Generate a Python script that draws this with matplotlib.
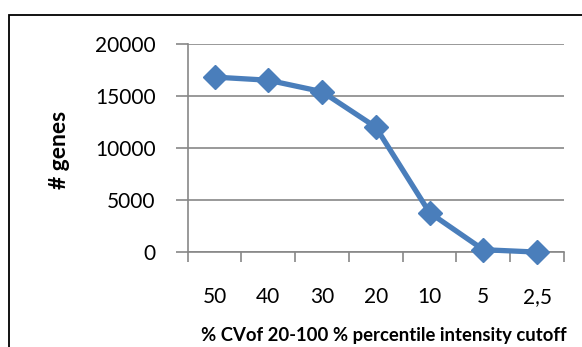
import numpy as np
import matplotlib
matplotlib.use("Agg")
import matplotlib.pyplot as plt
from matplotlib.patches import Rectangle

# number of genes kept at each CV cutoff
cutoffs = ["50", "40", "30", "20", "10", "5", "2,5"]
genes = [16800, 16500, 15400, 12000, 3800, 250, 20]

blue = "#4A7EBB"
grey = "#878787"

plt.rcParams["font.family"] = ["Lato", "DejaVu Sans"]

fig = plt.figure(figsize=(5.82, 3.47), dpi=100)
ax = fig.add_axes([0.3225, 0.2729, 0.969 - 0.3225, 0.874 - 0.2729])

x = np.arange(len(cutoffs))
ax.plot(x, genes, color=blue, linewidth=3.8, marker="D", markersize=12,
        markerfacecolor=blue, markeredgecolor=blue, zorder=3, clip_on=False)

ax.set_xlim(-0.5, len(cutoffs) - 0.5)
ax.set_ylim(0, 20000)
ax.set_yticks([0, 5000, 10000, 15000, 20000])
ax.yaxis.grid(True, color=grey, linewidth=1.2)
ax.set_axisbelow(True)

# ticks between categories, labels at category centres
ax.set_xticks(np.arange(-0.5, len(cutoffs), 1.0))
ax.set_xticklabels([])
ax.set_xticks(x, minor=True)
ax.set_xticklabels(cutoffs, minor=True, fontsize=15)
ax.tick_params(axis="x", which="major", direction="out", length=7, color=grey, width=1.2)
ax.tick_params(axis="x", which="minor", length=0, pad=25)
ax.tick_params(axis="y", direction="out", length=9, color=grey, width=1.2,
               pad=14, labelsize=15)

for side in ["top", "right"]:
    ax.spines[side].set_visible(False)
for side in ["left", "bottom"]:
    ax.spines[side].set_color(grey)
    ax.spines[side].set_linewidth(1.2)

fig.text(60 / 582, 1 - 150 / 347, "# genes", rotation=90, fontsize=16.5,
         fontweight="bold", ha="center", va="center")
fig.text(201 / 582, 1 - 335 / 347, "% CVof 20-100 % percentile intensity cutoff",
         fontsize=13.3, fontweight="bold", ha="left", va="center")

# chart frame
fig.patches.append(Rectangle((9 / 582, -0.1), 1.2, 1 - 15 / 347 + 0.1,
                             transform=fig.transFigure, fill=False,
                             edgecolor="black", linewidth=1.3))

fig.savefig("out.png", dpi=100)
